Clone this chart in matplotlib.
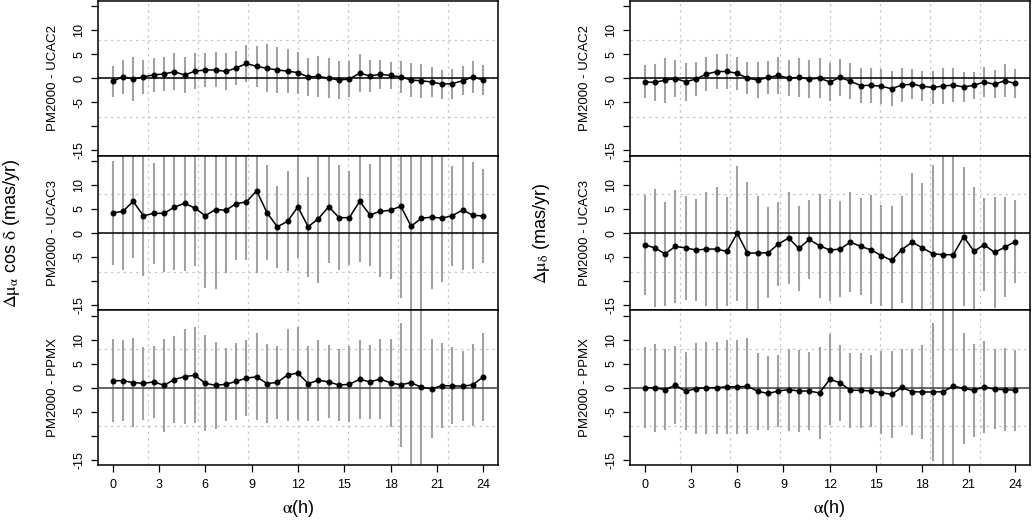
import matplotlib
matplotlib.use("Agg")

import matplotlib.pyplot as plt
import numpy as np

plt.rcParams["font.family"] = ["Liberation Sans", "DejaVu Sans"]
plt.rcParams["mathtext.fontset"] = "stix"

# ---------------------------------------------------------------------------
# Data: mean proper-motion differences and their scatter per RA bin (mas/yr)
# ---------------------------------------------------------------------------

RA_HOURS = [0, 0.667, 1.333, 2, 2.667, 3.333, 4, 4.667, 5.333, 6, 6.667, 7.333,
            8, 8.667, 9.333, 10, 10.667, 11.333, 12, 12.667, 13.333, 14, 14.667,
            15.333, 16, 16.667, 17.333, 18, 18.667, 19.333, 20, 20.667, 21.333,
            22, 22.667, 23.333, 24]

ROW_LABELS = ["PM2000 - UCAC2", "PM2000 - UCAC3", "PM2000 - PPMX"]

# mu_alpha cos(delta)
PMRA_UCAC2 = [-0.6, 0.35, -0.15, 0.3, 0.75, 0.9, 1.4, 0.7, 1.5, 1.75, 1.75, 1.45,
              2.15, 3.1, 2.5, 2.1, 1.75, 1.5, 1.2, 0.3, 0.4, 0.05, -0.35, -0.15,
              1.1, 0.5, 0.85, 0.6, 0.3, -0.35, -0.5, -0.75, -1.2, -1.1, -0.5, 0.3, -0.35]
PMRA_UCAC2_SD = [3.2, 3.55, 4.6, 3.55, 3.6, 3.5, 3.8, 3.7, 3.75, 3.6, 3.65, 3.9,
                 3.6, 3.85, 4.2, 5.0, 4.7, 4.6, 4.4, 3.9, 4.2, 4.1, 3.9, 3.8,
                 3.9, 3.3, 3.05, 2.9, 3.4, 3.5, 3.5, 3.2, 3.0, 3.1, 3.05, 3.4, 3.2]

PMRA_UCAC3 = [4.2, 4.5, 6.6, 3.6, 4.1, 4.1, 5.4, 6.2, 5.2, 3.6, 4.9, 4.75,
              6.1, 6.5, 8.8, 4.25, 1.3, 2.45, 5.45, 1.3, 3.0, 5.5, 3.2, 3.2,
              6.6, 3.8, 4.5, 4.75, 5.6, 1.4, 3.1, 3.3, 3.1, 3.6, 4.8, 3.7, 3.55]
PMRA_UCAC3_SD = [10.9, 12.2, 11.8, 12.6, 10.6, 12.3, 13.1, 14.1, 12.1, 15.0, 16.5, 13.15,
                 11.7, 12.1, 17.2, 9.9, 8.5, 10.4, 10.7, 10.45, 13.4, 11.7, 11.0, 9.8,
                 12.6, 10.6, 13.7, 14.25, 19.1, 60, 60, 15.0, 13.4, 10.4, 12.5, 11.2, 9.7]

PMRA_PPMX = [1.45, 1.45, 1.05, 0.9, 1.2, 0.5, 1.7, 2.3, 2.6, 0.9, 0.5, 0.7,
             1.3, 2.0, 2.25, 0.85, 1.1, 2.65, 3.05, 0.85, 1.55, 1.2, 0.55, 0.7,
             1.75, 1.2, 1.8, 1.0, 0.6, 1.05, 0.05, -0.2, 0.4, 0.4, 0.3, 0.6, 2.25]
PMRA_PPMX_SD = [8.6, 8.4, 9.3, 7.6, 7.55, 9.7, 9.0, 9.85, 9.95, 10.0, 9.05, 7.6,
                8.0, 7.85, 9.05, 8.2, 7.65, 9.55, 9.7, 7.8, 8.4, 7.6, 7.5, 7.9,
                8.2, 7.7, 8.3, 9.2, 12.95, 60, 60, 10.35, 8.9, 8.05, 7.3, 8.5, 9.2]

# mu_delta
PMDE_UCAC2 = [-0.7, -0.85, -0.35, -0.05, -0.7, -0.15, 0.9, 1.4, 1.45, 1.05, 0.05, -0.35,
              0.2, 0.6, 0.05, 0.2, -0.15, 0.05, -0.75, 0.2, -0.6, -1.5, -1.45, -1.65,
              -2.15, -1.4, -1.2, -1.65, -1.9, -1.6, -1.4, -1.8, -1.45, -0.75, -1.25, -0.5, -1.05]
PMDE_UCAC2_SD = [3.4, 3.8, 4.7, 3.85, 4.0, 3.5, 3.6, 3.7, 3.6, 3.45, 3.3, 3.75,
                 3.4, 3.8, 3.7, 4.15, 3.9, 4.15, 3.9, 3.8, 3.7, 3.7, 3.7, 3.6,
                 3.7, 3.5, 3.15, 3.15, 3.4, 3.7, 3.6, 3.2, 2.8, 3.1, 2.9, 3.45, 3.1]

PMDE_UCAC3 = [-2.45, -3.1, -4.35, -2.8, -3.1, -3.55, -3.35, -3.35, -3.85, -0.05, -4.2, -4.15,
              -4.15, -2.3, -1.05, -3.2, -1.35, -2.65, -3.55, -3.35, -1.9, -2.8, -3.5, -4.7,
              -5.7, -3.45, -1.9, -3.1, -4.3, -4.55, -4.5, -0.75, -3.8, -2.45, -4.05, -2.95, -1.8]
PMDE_UCAC3_SD = [10.4, 12.35, 10.9, 11.85, 10.85, 10.7, 11.9, 12.95, 11.4, 14.05, 14.9, 11.9,
                 9.5, 8.75, 9.6, 8.9, 8.2, 10.8, 10.6, 9.95, 10.4, 10.1, 11.35, 10.45,
                 11.4, 11.1, 14.45, 13.5, 18.4, 60, 60, 14.5, 13.4, 9.65, 11.55, 10.4, 8.65]

PMDE_PPMX = [0, -0.05, -0.4, 0.5, -0.75, -0.2, 0, 0, 0.2, 0.15, 0.3, -0.75,
             -1.2, -0.7, -0.4, -0.7, -0.7, -1.1, 1.75, 1.0, -0.55, -0.55, -0.7, -1.05,
             -1.4, 0.05, -0.85, -0.9, -0.9, -0.85, 0.3, -0.15, -0.55, 0.2, -0.35, -0.4, -0.55]
PMDE_PPMX_SD = [8.5, 9.1, 8.4, 8.15, 8.1, 9.5, 9.6, 9.6, 9.8, 9.75, 10.0, 8.0,
                7.7, 7.5, 8.55, 8.45, 8.05, 9.6, 9.45, 7.95, 7.85, 7.8, 7.55, 8.6,
                9.05, 8.05, 8.95, 9.8, 14.45, 60, 60, 11.5, 9.7, 9.6, 8.35, 8.65, 8.5]

X_TICKS = [0, 3, 6, 9, 12, 15, 18, 21, 24]
Y_TICKS = [-15, -10, -5, 0, 5, 10, 15]
Y_TICK_LABELS = ["-15", "", "-5", "0", "5", "10", ""]

# R-style limits: data range padded by 4 %
XLIM = (-0.96, 24.96)
YLIM = (-16.12, 16.12)

BAR_COLOR = "#9da39d"
GRID_COLOR = "#c8c8c8"


def draw_panel(ax, means, sds, zero_color):
    x = np.array(RA_HOURS)
    m = np.array(means)
    s = np.array(sds)

    # R grid(nx=8, ny=4): equally spaced cells over the plotting region
    for gx in np.linspace(XLIM[0], XLIM[1], 9)[1:-1]:
        ax.axvline(gx, color=GRID_COLOR, lw=0.9, ls=(0, (2, 3)), zorder=0)
    for gy in np.linspace(YLIM[0], YLIM[1], 5)[1:-1]:
        ax.axhline(gy, color=GRID_COLOR, lw=0.9, ls=(0, (2, 3)), zorder=0)

    ax.vlines(x, m - s, m + s, color=BAR_COLOR, lw=1.5, zorder=2)
    ax.axhline(0, color=zero_color, lw=1.1, zorder=3)
    ax.plot(x, m, color="black", lw=1.1, marker="o", ms=3.3, zorder=4)

    ax.set_xlim(*XLIM)
    ax.set_ylim(*YLIM)
    ax.set_yticks(Y_TICKS)
    ax.set_yticklabels(Y_TICK_LABELS, rotation=90, va="center", fontsize=9)
    ax.tick_params(axis="y", direction="out", length=5, width=0.9, pad=4)
    for sp in ax.spines.values():
        sp.set_linewidth(1.1)


def main():
    fig, axes = plt.subplots(3, 2, figsize=(10.32, 5.21), dpi=100)
    fig.subplots_adjust(left=0.0947, right=0.998, bottom=0.1075, top=0.998,
                        wspace=0.329, hspace=0)

    columns = [
        (PMRA_UCAC2, PMRA_UCAC2_SD, PMRA_UCAC3, PMRA_UCAC3_SD, PMRA_PPMX, PMRA_PPMX_SD),
        (PMDE_UCAC2, PMDE_UCAC2_SD, PMDE_UCAC3, PMDE_UCAC3_SD, PMDE_PPMX, PMDE_PPMX_SD),
    ]
    zero_colors = ["black", "black", "#404040"]

    for col, data in enumerate(columns):
        for row in range(3):
            ax = axes[row, col]
            draw_panel(ax, data[2 * row], data[2 * row + 1], zero_colors[row])
            ax.set_ylabel(ROW_LABELS[row], fontsize=9.5, labelpad=10)
            if row < 2:
                ax.set_xticks([])
            else:
                ax.set_xticks(X_TICKS)
                ax.set_xticklabels([str(t) for t in X_TICKS], fontsize=9)
                ax.tick_params(axis="x", direction="out", length=5, width=0.9, pad=5)
                ax.set_xlabel(r"$\mathrm{\alpha}$(h)", fontsize=13, labelpad=5)

    fig.text(12 / 1032, 0.553, r"$\mathrm{\Delta\mu_{\alpha}}$ cos $\mathrm{\delta}$ (mas/yr)",
             rotation=90, ha="center", va="center", fontsize=13)
    fig.text(541 / 1032, 0.553, r"$\mathrm{\Delta\mu_{\delta}}$ (mas/yr)",
             rotation=90, ha="center", va="center", fontsize=13)

    fig.savefig("out.png", dpi=100)
    plt.close(fig)


if __name__ == "__main__":
    main()
